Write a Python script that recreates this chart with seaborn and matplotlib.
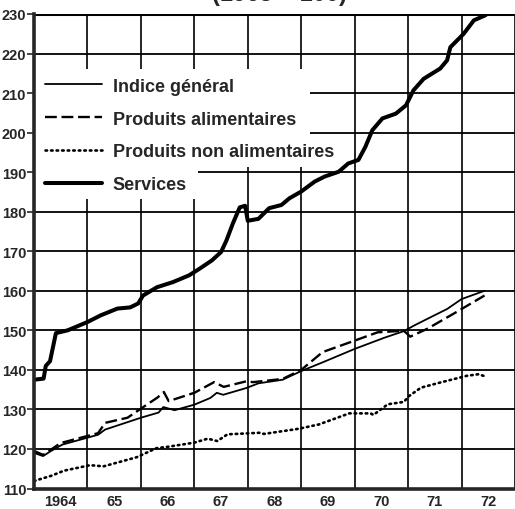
import matplotlib
matplotlib.use("Agg")
import matplotlib.pyplot as plt
from matplotlib import font_manager
from matplotlib.patches import Rectangle
import seaborn as sns
import pandas as pd
import numpy as np

# ---- data (decimal year, index 1963 = 100) ----
services_t = [1964.0, 1964.18, 1964.22, 1964.3, 1964.41, 1964.63, 1965.0, 1965.25, 1965.56, 1965.8,
              1965.95, 1966.04, 1966.3, 1966.6, 1966.9, 1967.1, 1967.33, 1967.5, 1967.6, 1967.72,
              1967.85, 1967.95, 1968.0, 1968.2, 1968.4, 1968.63, 1968.78, 1969.0, 1969.25, 1969.44,
              1969.7, 1969.88, 1970.07, 1970.2, 1970.33, 1970.52, 1970.77, 1970.96, 1971.1, 1971.29,
              1971.6, 1971.73, 1971.79, 1972.04, 1972.23, 1972.45]
services_v = [137.5, 137.8, 141.0, 142.2, 149.3, 150.0, 152.1, 153.8, 155.5, 155.8,
              156.8, 158.8, 160.9, 162.2, 163.9, 165.6, 167.7, 169.8, 172.7, 177.0,
              181.1, 181.5, 177.7, 178.2, 180.9, 181.7, 183.4, 185.1, 187.6, 188.9,
              190.1, 192.2, 193.1, 196.4, 200.6, 203.6, 204.8, 206.9, 210.7, 213.6,
              216.2, 218.3, 221.6, 225.0, 228.4, 229.7]

general_t = [1964.0, 1964.17, 1964.32, 1964.53, 1965.2, 1965.33, 1966.0, 1966.33, 1966.42, 1966.63,
             1967.0, 1967.3, 1967.42, 1967.54, 1967.97, 1968.2, 1968.65, 1969.0, 1969.4, 1970.0,
             1970.55, 1970.92, 1971.11, 1971.36, 1971.73, 1972.0, 1972.43]
general_v = [119.0, 118.2, 119.5, 121.1, 123.6, 124.9, 127.9, 129.2, 130.6, 129.8,
             131.2, 132.9, 134.2, 133.7, 135.4, 136.6, 137.5, 139.7, 141.9, 145.3,
             148.1, 149.8, 151.2, 152.9, 155.4, 157.9, 160.0]

alim_t = [1964.0, 1964.17, 1964.5, 1965.2, 1965.33, 1965.75, 1966.0, 1966.31, 1966.43, 1966.52,
          1967.0, 1967.37, 1967.55, 1967.97, 1968.1, 1968.65, 1969.0, 1969.4, 1970.0, 1970.43,
          1970.92, 1971.04, 1971.36, 1971.85, 1972.43]
alim_v = [119.5, 118.5, 121.5, 124.0, 126.6, 127.9, 130.2, 133.0, 134.4, 132.1,
          134.2, 136.9, 135.7, 137.1, 136.9, 137.7, 140.0, 144.5, 147.4, 149.5,
          149.9, 148.4, 150.4, 154.2, 158.8]

nonalim_t = [1964.0, 1964.32, 1964.56, 1965.05, 1965.3, 1965.92, 1966.29, 1966.53, 1967.0, 1967.25,
             1967.43, 1967.62, 1968.23, 1968.3, 1968.95, 1969.33, 1969.9, 1970.3, 1970.35, 1970.62,
             1970.92, 1971.02, 1971.24, 1971.6, 1972.1, 1972.32, 1972.43]
nonalim_v = [111.9, 113.2, 114.5, 115.9, 115.6, 117.9, 120.2, 120.6, 121.6, 122.6,
             122.0, 123.7, 124.1, 123.8, 125.1, 126.2, 129.0, 129.0, 128.6, 131.3,
             131.9, 133.4, 135.5, 136.8, 138.5, 138.9, 138.4]

year_labels = ["1964", "65", "66", "67", "68", "69", "70", "71", "72"]
y_ticks = list(range(110, 231, 10))

labels = ["Indice général", "Produits alimentaires", "Produits non alimentaires", "Services"]
title_text = "(1963 = 100)"

# ---- fonts ----
sns.set_style("white")
plt.rcParams["font.family"] = ["Liberation Sans", "DejaVu Sans"]
installed = {f.name for f in font_manager.fontManager.ttflist}
if "Liberation Sans Narrow" in installed:
    tick_font = dict(fontfamily="Liberation Sans Narrow", fontweight="bold", fontsize=12.5)
else:
    tick_font = dict(fontfamily="Liberation Sans", fontweight="bold", fontsize=10.5)

# ---- figure ----
fig = plt.figure(figsize=(5.15, 5.10), dpi=100)
ax = fig.add_axes([34 / 515, 1 - 489.5 / 510, 1 - 34 / 515, (489.5 - 15) / 510])

def draw(t, v, **kw):
    df = pd.DataFrame({"t": t, "v": v})
    sns.lineplot(data=df, x="t", y="v", ax=ax, estimator=None, sort=False,
                 color="black", zorder=5, **kw)

draw(general_t, general_v, lw=1.3, label=labels[0])
draw(alim_t, alim_v, lw=1.7, label=labels[1])
draw(nonalim_t, nonalim_v, lw=1.9, label=labels[2])
draw(services_t, services_v, lw=2.9, label=labels[3])

lines = ax.get_lines()
lines[1].set_dashes([5, 2])
lines[2].set_dashes([0.6, 1.5])
lines[2].set_dash_capstyle("round")

ax.set_xlim(1964, 1973)
ax.set_ylim(110, 230)

# grid at year boundaries and every 10 units
for yv in y_ticks:
    ax.axhline(yv, color="black", lw=1.3 if yv < 230 else 2.2, zorder=1)
for xv in np.arange(1964, 1974):
    ax.axvline(xv, color="black", lw=1.2, zorder=1)

# white background behind the legend (hides the grid there)
ax.add_patch(Rectangle((1964, 191.3), 5.17, 24.8, facecolor="white", edgecolor="none", zorder=3))
ax.add_patch(Rectangle((1964, 183.3), 3.07, 8.2, facecolor="white", edgecolor="none", zorder=3))

ax.set_yticks(y_ticks)
ax.set_yticklabels([str(v) for v in y_ticks], **tick_font)
ax.set_xticks(np.arange(1964, 1973) + 0.5)
ax.set_xticklabels(year_labels, **tick_font)
ax.tick_params(axis="y", length=5, width=1.2, direction="out", pad=0.5, left=True)
ax.tick_params(axis="x", length=0, pad=4)
ax.set_xlabel("")
ax.set_ylabel("")

for s in ["top", "right"]:
    ax.spines[s].set_visible(False)
ax.spines["left"].set_linewidth(2.6)
ax.spines["bottom"].set_linewidth(2.6)
ax.spines["left"].set_zorder(6)
ax.spines["bottom"].set_zorder(6)

leg = ax.legend(loc="upper left", bbox_to_anchor=(0.008, 0.881), frameon=False,
                prop={"weight": "bold", "size": 13}, handlelength=3.15,
                handletextpad=0.6, labelspacing=0.88, borderaxespad=0, borderpad=0.4)
leg.set_zorder(7)

fig.text(279 / 515, 1 - 1.5 / 510, title_text, ha="center", va="baseline",
         fontsize=17, fontweight="bold")

fig.savefig("out.png", dpi=100, facecolor="white")
